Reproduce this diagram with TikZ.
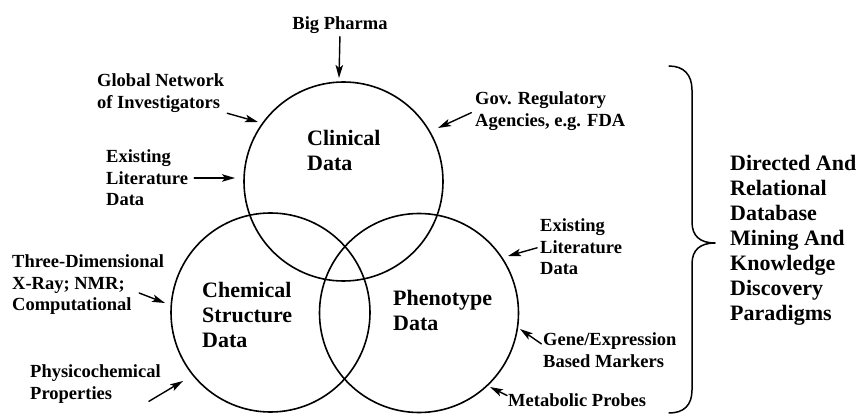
\documentclass[tikz,border=0pt]{standalone}
\usepackage{fontspec}
\setmainfont{Liberation Serif}
\usetikzlibrary{arrows.meta}

\begin{document}
\begin{tikzpicture}[x=1pt,y=-1pt,line join=round,line cap=round,>={Stealth[length=13pt,width=7.5pt,inset=3pt]}]
	\tikzset{set/.style={draw,circle,line width=1.6pt,inner sep=0pt,minimum size=199pt},
		lbl/.style={font=\fontsize{18.5}{21.5}\selectfont\bfseries,align=left,anchor=west,inner sep=0pt},
		big/.style={font=\fontsize{22}{25}\selectfont\bfseries,align=left,anchor=west,inner sep=0pt},
		feed/.style={->,line width=1.4pt}}
	\useasboundingbox (0,0) rectangle (857,414);
	% the three data sets
	\node[set] (clin) at (343.5,181.5) {};
	\node[set] (chem) at (270.5,312.5) {};
	\node[set] (pheno) at (419,313) {};
	\node[big] (clint) at (307,150) {Clinical\\Data};
	\node[big] (chemt) at (202,315) {Chemical\\Structure\\Data};
	\node[big] (phenot) at (393,310) {Phenotype\\Data};
	% sources
	\node[lbl,anchor=center] (pharma) at (340,25) {Big Pharma};
	\node[lbl] (glob) at (97,93) {Global Network\\of Investigators};
	\node[lbl] (litA) at (106,178) {Existing\\Literature\\Data};
	\node[lbl] (gov) at (475,111) {Gov. Regulatory\\Agencies, e.g. FDA};
	\node[lbl] (three) at (12,285) {Three-Dimensional\\X-Ray; NMR;\\Computational};
	\node[lbl] (phys) at (30,384) {Physicochemical\\Properties};
	\node[lbl] (litB) at (540,247) {Existing\\Literature\\Data};
	\node[lbl] (gene) at (543,350) {Gene/Expression\\Based Markers};
	\node[lbl] (meta) at (508,400) {Metabolic Probes};
	% arrow tips at the circles
	\coordinate (pharma-in) at (339,78);
	\coordinate (glob-in) at (258,122);
	\coordinate (litA-in) at (235,178);
	\coordinate (gov-in) at (438,128);
	\coordinate (three-in) at (165,303);
	\coordinate (phys-in) at (183,381);
	\coordinate (litB-in) at (508,256);
	\coordinate (gene-in) at (520,329);
	\coordinate (meta-in) at (490,387);
	\draw[feed,shorten <=3pt] (pharma.south) -- (pharma-in);
	\draw[feed,shorten <=3pt] (glob.south east) -- (glob-in);
	\draw[feed,shorten <=6pt] (litA.east) -- (litA-in);
	\draw[feed,shorten <=4pt] (gov.west) -- (gov-in);
	\draw[feed] ([shift={(-25pt,-8pt)}]three.east) -- (three-in);
	\draw[feed] ([shift={(-12pt,2pt)}]phys.south east) -- (phys-in);
	\draw[feed,shorten <=3pt] (litB.west) -- (litB-in);
	\draw[feed,shorten <=2pt] ([yshift=5pt]gene.west) -- (gene-in);
	\draw[feed,shorten <=1pt] ([yshift=4pt]meta.west) -- (meta-in);
	% the brace and what it groups
	\draw[line width=1.5pt] (669,66) .. controls (684,66) and (692,75) .. (692,90) -- (692,222)
		.. controls (692,236) and (700,243) .. (715,243)
		.. controls (700,243) and (692,250) .. (692,264) -- (692,390)
		.. controls (692,405) and (684,413) .. (669,413);
	\node[big] (mining) at (730,240) {Directed And\\Relational\\Database\\Mining And\\Knowledge\\Discovery\\Paradigms};
\end{tikzpicture}
\end{document}
